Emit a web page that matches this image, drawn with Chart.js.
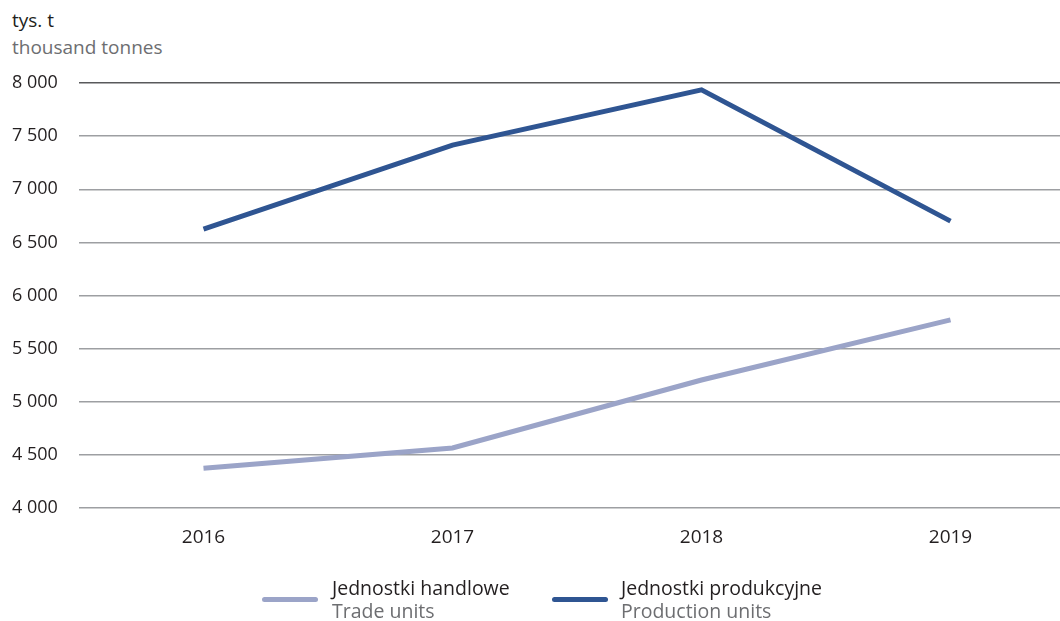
<!DOCTYPE html>
<html>
<head>
<meta charset="utf-8">
<script src="https://cdn.jsdelivr.net/npm/chart.js@4"></script>
<style>
  html, body { margin: 0; padding: 0; background: #fff; overflow: hidden; }
  #wrap { position: relative; width: 1060px; height: 621px; overflow: hidden; font-family: "Open Sans", sans-serif; }
  #chart { position: absolute; left: 0; top: 0; }
  .unit { position: absolute; left: 12px; font-size: 19px; line-height: 24px; }
  .leg { position: absolute; font-size: 19.5px; line-height: 23px; }
  .swatch { position: absolute; height: 5px; border-radius: 3px; }
  .pl { color: #231f20; }
  .en { color: #6d6e71; }
</style>
</head>
<body>
<div id="wrap">
  <div class="unit pl" style="top:8px">tys. t</div>
  <div class="unit en" style="top:35px">thousand tonnes</div>
  <canvas id="chart" width="1075" height="621"></canvas>
  <div class="swatch" style="left:262px; top:597px; width:56px; background:#9ba4c8"></div>
  <div class="leg" style="left:332px; top:576px"><div class="pl">Jednostki handlowe</div><div class="en">Trade units</div></div>
  <div class="swatch" style="left:552px; top:597px; width:56px; background:#2f5592"></div>
  <div class="leg" style="left:621px; top:576px"><div class="pl">Jednostki produkcyjne</div><div class="en">Production units</div></div>
</div>
<script>
// Data
const years = ['2016', '2017', '2018', '2019'];
const tradeUnits = [4375, 4565, 5205, 5770];
const productionUnits = [6625, 7415, 7935, 6700];
const yTicks = [4000, 4500, 5000, 5500, 6000, 6500, 7000, 7500, 8000];

Chart.defaults.font.family = '"Open Sans", sans-serif';
Chart.defaults.color = '#231f20';

function fmt(v) {
  return String(v).replace(/\B(?=(\d{3})+(?!\d))/g, ' ');
}

new Chart(document.getElementById('chart'), {
  type: 'line',
  data: {
    labels: years,
    datasets: [
      {
        label: 'Jednostki handlowe',
        data: tradeUnits,
        borderColor: '#9ba4c8',
        borderWidth: 5,
        pointRadius: 0,
        tension: 0
      },
      {
        label: 'Jednostki produkcyjne',
        data: productionUnits,
        borderColor: '#2f5592',
        borderWidth: 5,
        pointRadius: 0,
        tension: 0
      }
    ]
  },
  options: {
    responsive: false,
    animation: false,
    layout: { padding: { top: 83, bottom: 73, left: 12, right: 0 } },
    plugins: {
      legend: { display: false },
      tooltip: { enabled: false }
    },
    scales: {
      x: {
        offset: true,
        grid: { display: false },
        border: { display: false },
        ticks: { font: { size: 19 }, padding: 10, color: '#231f20' },
        afterFit: (s) => { s.height = 40; }
      },
      y: {
        min: 4000,
        max: 8000,
        afterBuildTicks: (s) => { s.ticks = yTicks.map(v => ({ value: v })); },
        afterFit: (s) => { s.width = 67; },
        border: { display: false },
        grid: {
          drawTicks: false,
          lineWidth: 1.5,
          color: (ctx) => ctx.tick && ctx.tick.value === 8000 ? '#58595b' : '#9d9fa2'
        },
        ticks: {
          crossAlign: 'far',
          padding: 0,
          font: { size: 18 },
          color: '#231f20',
          callback: (v) => fmt(v)
        }
      }
    }
  }
});
</script>
</body>
</html>
